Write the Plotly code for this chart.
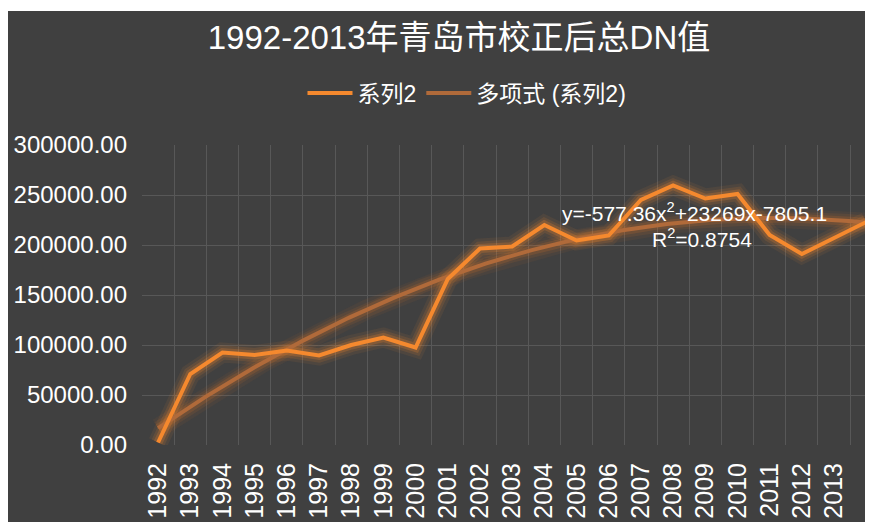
import numpy as np
import plotly.graph_objects as go

# x positions 1..23 (the 23rd point has no year label on the axis)
idx = list(range(1, 24))
years = [str(y) for y in range(1992, 2014)]
dn_values = [2500, 71000, 92500, 90000, 94500, 89500, 100000, 107500, 97500,
             166000, 196500, 198500, 220000, 204500, 209500, 245000, 259500,
             246500, 251000, 210000, 191000, 207000, 223000]

eq_text = "y=-577.36x<sup>2</sup>+23269x-7805.1"
r2_text = "R<sup>2</sup>=0.8754"

# quadratic trendline, fitted like Excel's polynomial trendline
coef = np.polyfit(idx, dn_values, 2)
trend_x = np.linspace(1, 23, 200)
trend_y = np.polyval(coef, trend_x)

FONT = "Liberation Sans, Arial, Noto Sans CJK SC"
BG = "#404040"
GRID = "#585858"
ORANGE = "#F5892E"
TREND = "#B06A3A"

# page has an 8px body margin, so the figure is the visible 865x514 area
OFF = 8
W, H = 873 - OFF, 522 - OFF
L, T, B = 142 - OFF, 145 - OFF, 77
pw, ph = W - L, H - T - B

def px_x(p):
    return (p - OFF - L) / pw

def px_y(p):
    return (H - B - (p - OFF)) / ph

fig = go.Figure()

# soft glow under the lines
for w, a in [(20, 0.06), (14, 0.10), (9, 0.16)]:
    fig.add_trace(go.Scatter(x=trend_x, y=trend_y, mode="lines",
                             line=dict(color=f"rgba(230,120,40,{a})", width=w),
                             showlegend=False, hoverinfo="skip"))
for w, a in [(20, 0.08), (14, 0.13), (9, 0.22)]:
    fig.add_trace(go.Scatter(x=idx, y=dn_values, mode="lines",
                             line=dict(color=f"rgba(245,137,46,{a})", width=w),
                             showlegend=False, hoverinfo="skip"))

fig.add_trace(go.Scatter(x=trend_x, y=trend_y, mode="lines", name="多项式 (系列2)",
                         line=dict(color=TREND, width=4), legendrank=2))
fig.add_trace(go.Scatter(x=idx, y=dn_values, mode="lines", name="系列2",
                         line=dict(color=ORANGE, width=4), legendrank=1))

fig.add_annotation(text=eq_text, x=px_x(694), y=px_y(212), xref="paper", yref="paper",
                   xanchor="center", yanchor="middle", showarrow=False,
                   font=dict(size=21, color="white", family=FONT))
fig.add_annotation(text=r2_text, x=px_x(702), y=px_y(238), xref="paper", yref="paper",
                   xanchor="center", yanchor="middle", showarrow=False,
                   font=dict(size=21, color="white", family=FONT))

# thin white strip at the top of the picture
fig.add_shape(type="rect", xref="paper", yref="paper", x0=px_x(0), x1=px_x(880),
              y0=px_y(11), y1=px_y(0), fillcolor="white", line_width=0, layer="above")

fig.update_layout(
    width=W, height=H,
    margin=dict(l=L, r=0, t=T, b=B),
    paper_bgcolor=BG, plot_bgcolor=BG,
    font=dict(family=FONT, color="white"),
    title=dict(text="1992-2013年青岛市校正后总DN值", x=(459 - OFF) / W, xref="container",
               xanchor="center", y=1 - (37 - OFF) / H, yref="container", yanchor="middle",
               font=dict(size=33, color="white", family=FONT)),
    legend=dict(orientation="h", x=px_x(467), y=px_y(93), xanchor="center",
                yanchor="middle", font=dict(size=23, color="white"),
                itemwidth=45, bgcolor="rgba(0,0,0,0)"),
    xaxis=dict(range=[0.5, 23.21], tickmode="array", tickvals=idx[:22], ticktext=years,
               tickangle=-90, showgrid=False, zeroline=False, showline=False,
               ticks="", ticklabelstandoff=12,
               tickfont=dict(size=25, color="white"),
               minor=dict(tickvals=[i + 0.5 for i in range(0, 23)], showgrid=True,
                          gridcolor=GRID, gridwidth=1, ticks="")),
    yaxis=dict(range=[0, 300000], dtick=50000, tickformat=".2f", showgrid=True,
               gridcolor=GRID, gridwidth=1, zeroline=False, showline=False,
               ticks="", ticklabelstandoff=14,
               tickfont=dict(size=24, color="white")),
)

fig.write_html("out.html")
